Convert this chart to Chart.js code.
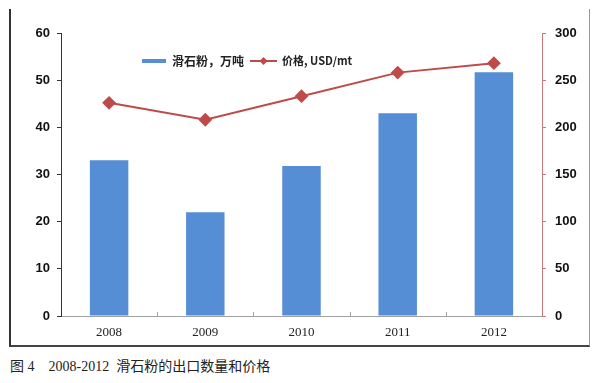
<!DOCTYPE html>
<html>
<head>
<meta charset="utf-8">
<script src="https://cdn.jsdelivr.net/npm/chart.js@4.4.1/dist/chart.umd.min.js"></script>
<style>
  html, body { margin: 0; padding: 0; background: #fff; }
  #wrap { position: relative; width: 603px; height: 383px; overflow: hidden; }
  #frame { position: absolute; left: 9px; top: 9px; width: 578px; height: 336px;
           border-left: 2px solid #333; border-right: 1px solid #999; border-bottom: 2px solid #444; }
  #cv { position: absolute; left: 0; top: 0; }
  #caption { position: absolute; left: 10px; top: 355px; font-size: 14px; color: #222;
             font-family: "Liberation Serif", "Noto Sans CJK SC", serif; white-space: pre; line-height: 20px; }
  #caption .cjk { font-family: "Noto Sans CJK SC", sans-serif; font-size: 14px; }
</style>
</head>
<body>
<div id="wrap">
  <div id="frame"></div>
  <canvas id="cv" width="603" height="350"></canvas>
  <div id="caption"><span class="cjk">图</span> 4    2008-2012  <span class="cjk">滑石粉的出口数量和价格</span></div>
</div>
<script>
const categories = ["2008", "2009", "2010", "2011", "2012"];
const volumeValues = [33.0, 22.0, 31.8, 43.0, 51.7];
const priceValues = [226, 208, 233, 258, 268];
const leftTicks = [0, 10, 20, 30, 40, 50, 60];
const rightTicks = [0, 50, 100, 150, 200, 250, 300];
const volumeLabel = "滑石粉，万吨";
const priceLabel = "价格, USD/mt";

const barColor = "#558ed5";
const lineColor = "#be4b48";

const legendPlugin = {
  id: "innerLegend",
  afterDraw(chart) {
    const ctx = chart.ctx;
    ctx.save();
    const y = 61;
    ctx.fillStyle = barColor;
    ctx.fillRect(142, y - 2, 24, 4);
    ctx.fillStyle = "#222";
    ctx.font = "bold 12px 'Noto Sans CJK SC', sans-serif";
    ctx.textBaseline = "middle";
    ctx.fillText(chart.data.datasets[0].label, 172, y);
    ctx.strokeStyle = lineColor;
    ctx.lineWidth = 2;
    ctx.beginPath(); ctx.moveTo(250, y); ctx.lineTo(277, y); ctx.stroke();
    ctx.fillStyle = lineColor;
    ctx.beginPath();
    ctx.moveTo(263.5 - 4, y); ctx.lineTo(263.5, y - 4); ctx.lineTo(263.5 + 4, y); ctx.lineTo(263.5, y + 4);
    ctx.closePath(); ctx.fill();
    ctx.fillStyle = "#222";
    ctx.font = "bold 11px 'Noto Sans CJK SC', sans-serif";
    ctx.fillText(chart.data.datasets[1].label, 282, y);
    ctx.restore();
  }
};

const xTickPlugin = {
  id: "xInnerTicks",
  afterDatasetsDraw(chart) {
    const ctx = chart.ctx, x = chart.scales.x, area = chart.chartArea;
    const step = (area.right - area.left) / categories.length;
    ctx.save();
    ctx.strokeStyle = "#a0a0a0";
    ctx.lineWidth = 1;
    for (let i = 1; i < categories.length; i++) {
      const px = Math.round(area.left + step * i) + 0.5;
      ctx.beginPath(); ctx.moveTo(px, area.bottom); ctx.lineTo(px, area.bottom - 4); ctx.stroke();
    }
    ctx.restore();
  }
};

new Chart(document.getElementById("cv"), {
  type: "bar",
  data: {
    labels: categories,
    datasets: [
      {
        type: "bar",
        label: volumeLabel,
        data: volumeValues,
        yAxisID: "y",
        backgroundColor: barColor,
        barPercentage: 0.4,
        categoryPercentage: 1.0,
        order: 1
      },
      {
        type: "line",
        label: priceLabel,
        data: priceValues,
        yAxisID: "y2",
        borderColor: lineColor,
        backgroundColor: lineColor,
        borderWidth: 2,
        pointStyle: "rectRot",
        pointRadius: 5.5,
        pointHoverRadius: 5.5,
        tension: 0,
        order: 0
      }
    ]
  },
  options: {
    responsive: false,
    animation: false,
    layout: { padding: { top: 33, left: 0, right: 0, bottom: 0 } },
    plugins: { legend: { display: false }, tooltip: { enabled: false } },
    scales: {
      x: {
        grid: { display: false, drawTicks: false },
        border: { color: "#a0a0a0", width: 1 },
        ticks: { color: "#222", padding: 9, font: { family: "'Liberation Serif', serif", size: 13 } },
        afterFit(s) { s.height = 34; }
      },
      y: {
        position: "left",
        min: 0, max: 60,
        afterBuildTicks(s) { s.ticks = leftTicks.map(v => ({ value: v })); },
        grid: { drawOnChartArea: false, drawTicks: true, tickLength: 4, color: "#333" },
        border: { color: "#333", width: 1 },
        ticks: { color: "#111", padding: 7, font: { family: "'Liberation Sans', Arial, sans-serif", size: 13, weight: "bold" } },
        afterFit(s) { s.width = 61; }
      },
      y2: {
        position: "right",
        min: 0, max: 300,
        afterBuildTicks(s) { s.ticks = rightTicks.map(v => ({ value: v })); },
        grid: { drawOnChartArea: false, drawTicks: true, tickLength: 4, color: "#c97a78" },
        border: { color: "#c97a78", width: 1 },
        ticks: { color: "#111", padding: 9, font: { family: "'Liberation Sans', Arial, sans-serif", size: 13, weight: "bold" } },
        afterFit(s) { s.width = 61; }
      }
    }
  },
  plugins: [legendPlugin, xTickPlugin]
});
</script>
</body>
</html>
